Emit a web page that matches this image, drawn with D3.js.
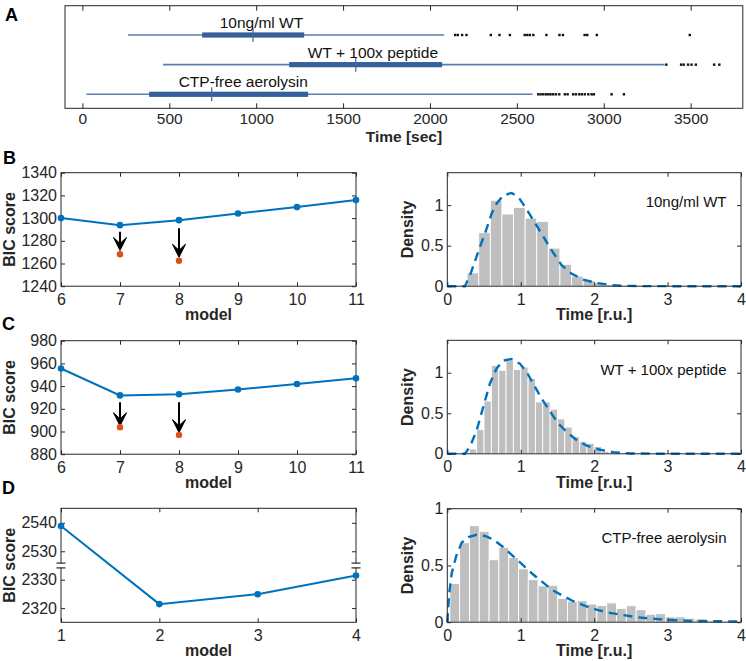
<!DOCTYPE html>
<html><head><meta charset="utf-8">
<script src="https://cdn.jsdelivr.net/npm/d3@7"></script>
<style>
body{margin:0;background:#fff}
text{font-family:"Liberation Sans",Arial,Helvetica,sans-serif;fill:#262626}
</style>
</head><body>
<svg id="c" width="746" height="661"></svg>
<script>
// ---------------- DATA ----------------
// Panel A: box plots of times (sec)
const boxLabels = ["10ng/ml WT", "WT + 100x peptide", "CTP-free aerolysin"];
const boxLabelStart = [790, 1297, 554];
const whiskerLow = [263, 464, 23];
const q1 = [689, 1190, 384];
const medians = [982, 1573, 744];
const q3 = [1276, 2070, 1299];
const whiskerHigh = [2082, 3350, 2590];
const outliersWT = [2145, 2160, 2185, 2210, 2350, 2400, 2460, 2545, 2560, 2575, 2595, 2670, 2745, 2765, 2890, 2905, 2960, 3495];
const outliersPeptide = [3360, 3445, 3460, 3485, 3505, 3530, 3635, 3665];
const outliersCTP = [2623, 2637, 2652, 2667, 2681, 2694, 2709, 2725, 2744, 2776, 2792, 2824, 2840, 2859, 2874, 2891, 2911, 2930, 2943, 3045, 3116];
const timeTicks = [0, 500, 1000, 1500, 2000, 2500, 3000, 3500];

// Panels B-D left: BIC scores
const modelsBC = [6, 7, 8, 9, 10, 11];
const bicB = [1300, 1293.8, 1298.2, 1304, 1309.7, 1315.9];
const bicC = [955.5, 931.8, 932.8, 937, 941.8, 946.9];
const modelsD = [1, 2, 3, 4];
const bicD = [2538.9, 2321.4, 2324.9, 2331.5];
const highlightModels = [7, 8];
const refinedB = [1268.2, 1262.4];
const refinedC = [903.8, 897.0];
const arrowStartB = [1288, 1291];
const arrowEndB = [1271.5, 1265.5];
const arrowStartC = [925.7, 925.7];
const arrowEndC = [905.0, 899.0];
const bicTicksB = [1240, 1260, 1280, 1300, 1320, 1340];
const bicTicksC = [880, 900, 920, 940, 960, 980];
const bicTicksD = [2320, 2330, 2530, 2540];

// Panels B-D right: histograms (density) and fitted curves
const histBStart = 0.27, histBWidth = 0.158;
const histBHeights = [0.165, 0.66, 1.06, 0.89, 0.97, 0.84, 0.80, 0.47, 0.27, 0.125, 0.07, 0.045, 0.02, 0.008, 0.006, 0.01, 0.012, 0.008];
const histCStart = 0.3, histCWidth = 0.1;
const histCHeights = [0.06, 0.30, 0.65, 1.09, 1.03, 1.16, 1.04, 1.07, 0.93, 0.64, 0.64, 0.55, 0.43, 0.33, 0.21, 0.15, 0.13, 0.09, 0.03, 0.012, 0.006];
const histDStart = 0.035, histDWidth = 0.1335;
const histDHeights = [0.34, 0.70, 0.85, 0.80, 0.55, 0.66, 0.57, 0.47, 0.375, 0.32, 0.325, 0.21, 0.185, 0.19, 0.16, 0.147, 0.17, 0.12, 0.145, 0.11, 0.07, 0.075, 0.047, 0.047, 0.035, 0.027, 0.015, 0.01, 0.01];

const fitBx = [0, 0.24, 0.31, 0.445, 0.513, 0.604, 0.672, 0.763, 0.876, 0.967, 1.058, 1.171, 1.308, 1.42, 1.557, 1.69, 1.85, 2.03, 2.216, 2.4, 2.7, 3.2, 4.0];
const fitBy = [0, 0, 0.136, 0.486, 0.65, 0.897, 1.02, 1.12, 1.15, 1.10, 0.98, 0.815, 0.61, 0.444, 0.26, 0.156, 0.082, 0.041, 0.016, 0.004, 0.001, 0, 0];
const fitCx = [0, 0.24, 0.31, 0.4, 0.49, 0.58, 0.67, 0.76, 0.876, 0.99, 1.08, 1.17, 1.285, 1.4, 1.51, 1.625, 1.76, 1.9, 2.08, 2.26, 2.49, 3.0, 4.0];
const fitCy = [0, 0, 0.09, 0.29, 0.58, 0.865, 1.05, 1.15, 1.17, 1.11, 1.01, 0.865, 0.68, 0.52, 0.375, 0.27, 0.17, 0.10, 0.05, 0.02, 0.004, 0, 0];
const fitDx = [0, 0.027, 0.06, 0.12, 0.195, 0.286, 0.4, 0.513, 0.627, 0.763, 0.9, 1.035, 1.17, 1.31, 1.44, 1.58, 1.716, 1.85, 2.03, 2.216, 2.4, 2.58, 2.8, 3.03, 3.3, 3.67, 4.0];
const fitDy = [0, 0.26, 0.43, 0.58, 0.70, 0.75, 0.77, 0.76, 0.73, 0.66, 0.58, 0.50, 0.42, 0.346, 0.28, 0.23, 0.185, 0.15, 0.11, 0.082, 0.062, 0.044, 0.03, 0.02, 0.012, 0.009, 0.006];
const histLabels = ["10ng/ml WT", "WT + 100x peptide", "CTP-free aerolysin"];
const timeRuTicks = [0, 1, 2, 3, 4];
const densityTicks = [0, 0.5, 1];

// ---------------- DRAWING ----------------
const svg = d3.select("#c");
const INK = "#262626", BLUE = "#0072BD", ORANGE = "#D95319";
const fmt = d3.format("~g");

function axes(g, x, y, xTicks, yTicks, opts) {
  const tl = opts.tickLen || 4;
  const [x0, x1] = x.range(), [yb, yt] = [y.range()[0], y.range()[y.range().length - 1]];
  const fs = opts.fontSize || 16;
  const gb = g.append("g").attr("transform", `translate(0,${yb})`)
    .call(d3.axisBottom(x).tickValues(xTicks).tickSize(-tl).tickPadding(opts.xPad || 7).tickFormat(opts.xFmt || fmt));
  const gt = g.append("g").attr("transform", `translate(0,${yt})`)
    .call(d3.axisTop(x).tickValues(xTicks).tickSize(-tl).tickFormat(""));
  [gb, gt].forEach(a => { a.select(".domain").remove(); a.selectAll("line").attr("stroke", INK); });
  gb.selectAll("text").attr("font-size", fs).style("fill", INK);
  if (yTicks) {
    const gl = g.append("g").attr("transform", `translate(${x0},0)`)
      .call(d3.axisLeft(y).tickValues(yTicks).tickSize(-tl).tickPadding(4).tickFormat(opts.yFmt || fmt));
    const gr = g.append("g").attr("transform", `translate(${x1},0)`)
      .call(d3.axisRight(y).tickValues(yTicks).tickSize(-tl).tickFormat(""));
    [gl, gr].forEach(a => { a.select(".domain").remove(); a.selectAll("line").attr("stroke", INK); });
    gl.selectAll("text").attr("font-size", fs).style("fill", INK);
  }
  g.selectAll("g").attr("font-family", null);
  g.append("rect").attr("x", x0).attr("y", yt).attr("width", x1 - x0).attr("height", yb - yt)
    .attr("fill", "none").attr("stroke", INK).attr("stroke-width", 1);
  if (opts.xTitle) g.append("text").attr("x", (x0 + x1) / 2).attr("y", yb + (opts.titleOff || 34))
    .attr("text-anchor", "middle").attr("font-weight", "bold").attr("font-size", opts.titleSize || 16).text(opts.xTitle);
  if (opts.yTitle) g.append("text").attr("transform", `translate(${opts.yTitleX},${(yb + yt) / 2}) rotate(-90)`)
    .attr("text-anchor", "middle").attr("font-weight", "bold").attr("font-size", 16).text(opts.yTitle);
}

function panelLetter(t, x, y) {
  svg.append("text").attr("x", x).attr("y", y).attr("font-size", 18).attr("font-weight", "bold").style("fill", "#000").text(t);
}

// ---- Panel A ----
{
  const g = svg.append("g");
  const x = d3.scaleLinear().domain([-100, 3800]).range([65, 742.8]);
  const rowY = d3.scalePoint().domain(boxLabels).range([35, 94.3]);
  const y = d3.scaleLinear().domain([0, 1]).range([108.3, 5.7]);
  axes(g, x, y, timeTicks, null, { tickLen: 5, fontSize: 15.5, xPad: 4.5, xTitle: "Time [sec]", titleOff: 34, titleSize: 15.5 });
  const outl = [outliersWT, outliersPeptide, outliersCTP];
  boxLabels.forEach((lab, i) => {
    const cy = rowY(lab);
    g.append("line").attr("x1", x(whiskerLow[i])).attr("x2", x(whiskerHigh[i])).attr("y1", cy).attr("y2", cy)
      .attr("stroke", "#5a7db0").attr("stroke-width", 1.6);
    g.append("rect").attr("x", x(q1[i])).attr("width", x(q3[i]) - x(q1[i])).attr("y", cy - 2.6).attr("height", 5.2)
      .attr("fill", "#35609a");
    g.append("line").attr("x1", x(medians[i])).attr("x2", x(medians[i])).attr("y1", cy - 7).attr("y2", cy + 7)
      .attr("stroke", "#3d68a3").attr("stroke-width", 1.2);
    g.selectAll(null).data(outl[i]).enter().append("rect")
      .attr("x", d => x(d) - 1.2).attr("y", cy - 1.2).attr("width", 2.4).attr("height", 2.4).attr("fill", "#111");
    g.append("text").attr("x", x(boxLabelStart[i])).attr("y", cy - 7).attr("text-anchor", "start")
      .attr("font-size", 15.5).style("fill", "#111").text(lab);
  });
  panelLetter("A", 5, 21);
}

// ---- Left BIC panels ----
function bicPanel(top, models, vals, ticks, yDomain, opts) {
  const g = svg.append("g");
  const x = d3.scaleLinear().domain(d3.extent(models)).range([61, 356]);
  const y = opts.yScale || d3.scaleLinear().domain(yDomain).range([top + 113.5, top]);
  axes(g, x, y, models, ticks, { xTitle: "model", yTitle: "BIC score", yTitleX: 15 });
  g.append("path").attr("d", d3.line().x((d, i) => x(models[i])).y(d => y(d))(vals))
    .attr("fill", "none").attr("stroke", BLUE).attr("stroke-width", 2);
  g.selectAll(null).data(vals).enter().append("circle")
    .attr("cx", (d, i) => x(models[i])).attr("cy", d => y(d)).attr("r", 3.3).attr("fill", BLUE);
  if (opts.refined) {
    opts.refined.forEach((v, i) => {
      const m = highlightModels[i];
      const px = x(m), y0 = y(opts.aStart[i]), y1 = y(opts.aEnd[i]);
      g.append("line").attr("x1", px).attr("x2", px).attr("y1", y0).attr("y2", y1 - 6)
        .attr("stroke", "#000").attr("stroke-width", 2);
      g.append("path").attr("d", `M${px},${y1} L${px - 6.5},${y1 - 13} L${px},${y1 - 7} L${px + 6.5},${y1 - 13} Z`)
        .attr("fill", "#000").attr("stroke", "#000").attr("stroke-width", 1).attr("stroke-linejoin", "miter");
      g.append("circle").attr("cx", px).attr("cy", y(v)).attr("r", 3.2).attr("fill", ORANGE);
    });
  }
  return { g, x, y };
}

bicPanel(172.7, modelsBC, bicB, bicTicksB, [1240, 1340], { refined: refinedB, aStart: arrowStartB, aEnd: arrowEndB });
bicPanel(340.7, modelsBC, bicC, bicTicksC, [880, 980], { refined: refinedC, aStart: arrowStartC, aEnd: arrowEndC });
{
  const top = 508.3, bot = 622.3, brk = 565.5;
  const yD = d3.scaleLinear().domain([2315, 2335, 2525, 2545.1]).range([bot, brk, brk, top]);
  const p = bicPanel(top, modelsD, bicD, bicTicksD, null, { yScale: yD });
  [61, 356].forEach(bx => {
    p.g.append("rect").attr("x", bx - 5).attr("y", brk - 2.2).attr("width", 10).attr("height", 4.4).attr("fill", "#fff");
    [brk - 2.4, brk + 2.4].forEach(yy => p.g.append("line").attr("x1", bx - 4.5).attr("x2", bx + 4.5)
      .attr("y1", yy).attr("y2", yy).attr("stroke", INK).attr("stroke-width", 1.2));
  });
}

// ---- Right histogram panels ----
function histPanel(top, start, width, heights, fx, fy, yMax, label) {
  const g = svg.append("g");
  const x = d3.scaleLinear().domain([0, 4]).range([447.3, 741]);
  const y = d3.scaleLinear().domain([0, yMax]).range([top + 113.5, top]);
  g.selectAll(null).data(heights).enter().append("rect")
    .attr("x", (d, i) => x(start + i * width)).attr("width", x(width) - x(0))
    .attr("y", d => y(d)).attr("height", d => y(0) - y(d))
    .attr("fill", "#bfbfbf").attr("stroke", "#fff").attr("stroke-width", 0.9);
  g.append("path").attr("d", d3.line().x(d => x(d)).y((d, i) => y(fy[i]))(fx))
    .attr("fill", "none").attr("stroke", BLUE).attr("stroke-width", 2.4).attr("stroke-dasharray", "9,6");
  axes(g, x, y, timeRuTicks, densityTicks, { xTitle: "Time [r.u.]", yTitle: "Density", yTitleX: 413 });
  g.append("text").attr("x", 726.5).attr("y", top + 29).attr("dy", "0.35em").attr("text-anchor", "end")
    .attr("font-size", 15).style("fill", "#111").text(label);
}
histPanel(172.7, histBStart, histBWidth, histBHeights, fitBx, fitBy, 1.4, histLabels[0]);
histPanel(340.3, histCStart, histCWidth, histCHeights, fitCx, fitCy, 1.4, histLabels[1]);
histPanel(508.7, histDStart, histDWidth, histDHeights, fitDx, fitDy, 1.0, histLabels[2]);

panelLetter("B", 3, 164);
panelLetter("C", 2, 330);
panelLetter("D", 2, 494);
</script>
</body></html>
